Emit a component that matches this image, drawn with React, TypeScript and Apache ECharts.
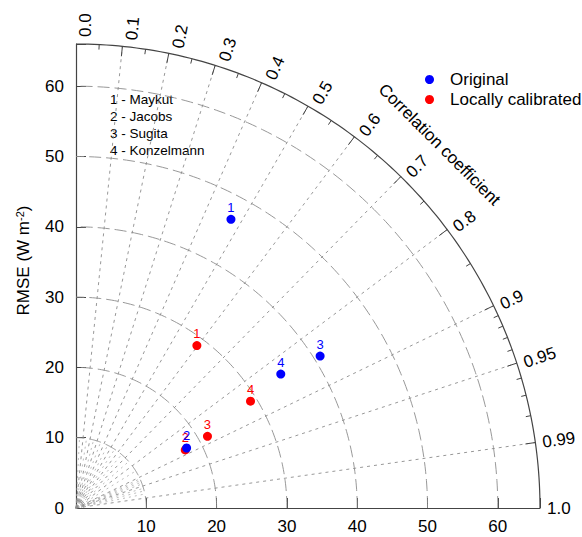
import React, { useEffect, useRef } from "react";
import * as echarts from "echarts";

const FONT = '"Liberation Sans", Arial, Helvetica, sans-serif';

// Model names (point labels are indices 1..4)
const modelIds = ["1", "2", "3", "4"];
const modelNames = ["Maykut", "Jacobs", "Sugita", "Konzelmann"];

// Radial value (RMSE, W m-2) and correlation for each model
const originalRmse = [46.6, 17.9, 40.9, 34.8];
const originalCorr = [0.473, 0.879, 0.849, 0.837];
const calibratedRmse = [28.8, 17.6, 21.3, 29.1];
const calibratedCorr = [0.597, 0.883, 0.878, 0.853];

// Axis definitions
const radiusMax = 66;
const radiusTicks = [0, 10, 20, 30, 40, 50, 60];
const radiusCircles = [10, 20, 30, 40, 50, 60];
const corrMajor = [0.1, 0.2, 0.3, 0.4, 0.5, 0.6, 0.7, 0.8, 0.9, 0.95, 0.99];
const corrMinor = [0.05, 0.15, 0.25, 0.35, 0.45, 0.55, 0.65, 0.75, 0.85, 0.91, 0.92, 0.93, 0.94, 0.96, 0.97, 0.98];
const corrLabels = ["0.0", "0.1", "0.2", "0.3", "0.4", "0.5", "0.6", "0.7", "0.8", "0.9", "0.95", "0.99", "1.0"];
const originArcs = [0.5, 0.8, 1.1];

const toXY = (r: number, c: number) => [r * c, r * Math.sqrt(Math.max(0, 1 - c * c))];

function renderDiagram(params: any, api: any) {
  const o = api.coord([0, 0]);
  const pr = api.coord([radiusMax, 0])[0] - o[0];
  const children: any[] = [];
  const grid = "#8c8c8c";

  const arcPoints = (r: number) => {
    const pts: number[][] = [];
    const n = 120;
    for (let i = 0; i <= n; i++) {
      const th = (Math.PI / 2) * (i / n);
      pts.push(api.coord([r * Math.cos(th), r * Math.sin(th)]));
    }
    return pts;
  };

  // tiny arcs near origin
  originArcs.forEach((r) => {
    children.push({
      type: "polyline",
      shape: { points: arcPoints(r) },
      style: { stroke: "#b0b0b0", lineWidth: 0.8, fill: null },
    });
  });

  // minor radial lines close to origin
  corrMinor.forEach((c) => {
    const th = Math.acos(c);
    const p = api.coord([10 * Math.cos(th), 10 * Math.sin(th)]);
    children.push({
      type: "line",
      shape: { x1: o[0], y1: o[1], x2: p[0], y2: p[1] },
      style: { stroke: "#a0a0a0", lineWidth: 0.7, lineDash: [2, 4] },
    });
  });

  // concentric circles
  radiusCircles.forEach((r) => {
    children.push({
      type: "polyline",
      shape: { points: arcPoints(r) },
      style: { stroke: grid, lineWidth: 0.9, lineDash: [12, 5], fill: null },
    });
  });

  // major radial lines
  corrMajor.forEach((c) => {
    const th = Math.acos(c);
    const p = api.coord([radiusMax * Math.cos(th), radiusMax * Math.sin(th)]);
    children.push({
      type: "line",
      shape: { x1: o[0], y1: o[1], x2: p[0], y2: p[1] },
      style: { stroke: grid, lineWidth: 0.9, lineDash: [3, 4] },
    });
  });

  // outer arc
  children.push({
    type: "polyline",
    shape: { points: arcPoints(radiusMax) },
    style: { stroke: "#444444", lineWidth: 1.2, fill: null },
  });

  // ticks on arc
  const tick = (c: number, len: number) => {
    const th = Math.acos(c);
    const cs = Math.cos(th);
    const sn = Math.sin(th);
    children.push({
      type: "line",
      shape: {
        x1: o[0] + pr * cs,
        y1: o[1] - pr * sn,
        x2: o[0] + (pr - len) * cs,
        y2: o[1] - (pr - len) * sn,
      },
      style: { stroke: "#444444", lineWidth: 1 },
    });
  };
  corrMajor.forEach((c) => tick(c, 10));
  corrMinor.forEach((c) => tick(c, 5));

  // correlation labels
  corrLabels.forEach((lab) => {
    const c = parseFloat(lab);
    const th = Math.acos(c);
    const cs = Math.cos(th);
    const sn = Math.sin(th);
    const off = (9 * th) / (Math.PI / 2);
    const pad = 7;
    children.push({
      type: "text",
      x: o[0] + (pr + pad) * cs + off * sn,
      y: o[1] - (pr + pad) * sn + off * cs,
      rotation: th,
      style: {
        text: lab,
        fill: "#000",
        font: "17px " + FONT,
        align: "left",
        verticalAlign: "middle",
        textAlign: "left",
        textVerticalAlign: "middle",
      },
    });
  });

  // title along the arc
  const tth = Math.PI / 4;
  children.push({
    type: "text",
    x: o[0] + (pr + 50) * Math.cos(tth),
    y: o[1] - (pr + 50) * Math.sin(tth),
    rotation: -tth,
    style: {
      text: "Correlation coefficient",
      fill: "#000",
      font: "17px " + FONT,
      align: "center",
      verticalAlign: "middle",
      textAlign: "center",
      textVerticalAlign: "middle",
    },
  });

  return { type: "group", children };
}

export default function App() {
  const ref = useRef<HTMLDivElement>(null);
  useEffect(() => {
    if (!ref.current) return;
    const chart = echarts.init(ref.current, null, { renderer: "svg" });
    const pointSeries = (name: string, rmse: number[], corr: number[], color: string, z: number) => ({
      type: "scatter",
      name,
      z,
      symbol: "circle",
      symbolSize: 9,
      itemStyle: { color, opacity: 1 },
      label: {
        show: true,
        position: "top",
        distance: 1,
        formatter: (p: any) => p.name,
        color,
        fontSize: 13,
        fontFamily: FONT,
      },
      data: modelIds.map((id, i) => ({ name: id, value: toXY(rmse[i], corr[i]) })),
    });
    chart.setOption({
      animation: false,
      backgroundColor: "#ffffff",
      textStyle: { fontFamily: FONT },
      grid: { left: 76, top: 44, width: 464, height: 464, containLabel: false, outerBoundsMode: "none" },
      legend: {
        orient: "vertical",
        left: 420,
        top: 66,
        icon: "circle",
        itemWidth: 9,
        itemHeight: 9,
        itemGap: 3,
        data: ["Original", "Locally calibrated"],
        itemStyle: { opacity: 1 },
        textStyle: { fontSize: 17, lineHeight: 17, color: "#000", fontFamily: FONT, padding: [0, 0, 0, 11] },
      },
      xAxis: {
        type: "value",
        min: 0,
        max: radiusMax,
        interval: 10,
        splitLine: { show: false },
        axisLine: { lineStyle: { color: "#444", width: 1.2 } },
        axisTick: { inside: true, length: 10, lineStyle: { color: "#444" } },
        axisLabel: {
          color: "#000",
          fontSize: 17,
          fontFamily: FONT,
          margin: 10,
          formatter: (v: number) => (v > 0 && radiusTicks.includes(v) ? String(v) : ""),
        },
      },
      yAxis: {
        type: "value",
        min: 0,
        max: radiusMax,
        interval: 10,
        splitLine: { show: false },
        axisLine: { lineStyle: { color: "#444", width: 1.2 } },
        axisTick: { inside: true, length: 10, lineStyle: { color: "#444" } },
        axisLabel: {
          color: "#000",
          fontSize: 17,
          fontFamily: FONT,
          margin: 12,
          formatter: (v: number) => (radiusTicks.includes(v) ? String(v) : ""),
        },
        name: "RMSE (W m{sup|-2})",
        nameLocation: "middle",
        nameGap: 43,
        nameRotate: 90,
        nameTextStyle: {
          color: "#000",
          fontSize: 17,
          fontFamily: FONT,
          padding: [0, 0, 0, 31],
          rich: { sup: { fontSize: 11, color: "#000", fontFamily: FONT, padding: [0, 0, 8, 0] } },
        },
      },
      graphic: [
        {
          type: "group",
          left: 110,
          top: 92,
          children: modelNames.map((n, i) => ({
            type: "text",
            x: 0,
            y: i * 17,
            style: { text: `${modelIds[i]} - ${n}`, fill: "#000", font: "13.5px " + FONT },
          })),
        },
      ],
      series: [
        {
          type: "custom",
          silent: true,
          clip: false,
          z: 1,
          renderItem: renderDiagram,
          data: [[0, 0]],
        },
        pointSeries("Locally calibrated", calibratedRmse, calibratedCorr, "#ff0000", 3),
        pointSeries("Original", originalRmse, originalCorr, "#0000ff", 4),
      ],
    });
    return () => chart.dispose();
  }, []);
  return (
    <div
      ref={ref}
      style={{ position: "fixed", left: 0, top: 0, width: 582, height: 537, background: "#fff" }}
    />
  );
}
